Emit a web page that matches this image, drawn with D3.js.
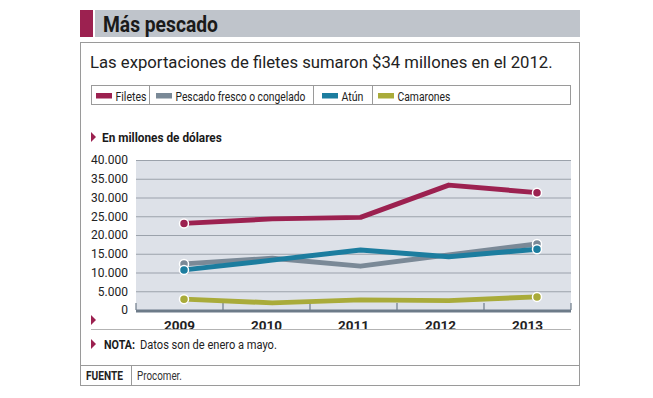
<!DOCTYPE html>
<html lang="es">
<head>
<meta charset="UTF-8">
<title>Más pescado</title>
<script src="https://d3js.org/d3.v7.min.js"></script>
<style>
    body {margin: 0; background: #fff;}
    svg {display: block; font-family: Roboto, "Liberation Sans", sans-serif;}
</style>
</head>
<body>
<svg id="chart" width="653" height="398"></svg>
<script>
// data (millones de dólares)
let years = ["2009", "2010", "2011", "2012", "2013"]
let filetes = [23100, 24300, 24700, 33300, 31300]
let pescado = [12300, 13800, 11700, 14700, 17600]
let atun = [10700, 13300, 16000, 14200, 16200]
let camarones = [2900, 1900, 2700, 2500, 3500]
let yTicks = [0, 5000, 10000, 15000, 20000, 25000, 30000, 35000, 40000]

let series = [
    {name: "Camarones", values: camarones, color: "#a9ab3a"},
    {name: "Pescado fresco o congelado", values: pescado, color: "#7a8997"},
    {name: "Atún", values: atun, color: "#1c7d9f"},
    {name: "Filetes", values: filetes, color: "#9c2150"}
]
let legendOrder = ["Filetes", "Pescado fresco o congelado", "Atún", "Camarones"]

let svg = d3.select("#chart")
let border = "#9a9a9a"

// the original uses a condensed face; squeeze Roboto horizontally to the same width
function fit(t, w) {
    let nat = t.node().getComputedTextLength()
    let x0 = +t.attr("x"), y0 = +t.attr("y")
    t.attr("x", 0).attr("y", 0)
        .attr("transform", `translate(${x0},${y0}) scale(${w / nat},1)`)
    return t
}

// title bar
svg.append("rect").attr("x", 80).attr("y", 10).attr("width", 13).attr("height", 27).attr("fill", "#9c2150")
svg.append("rect").attr("x", 95).attr("y", 10).attr("width", 485).attr("height", 27).attr("fill", "#bfc4cb")
fit(svg.append("text")
    .attr("x", 103).attr("y", 32)
    .attr("font-size", 22).attr("font-weight", "bold").attr("fill", "#1a1a1a")
    .text("Más pescado"), 115)

// main box
svg.append("rect").attr("x", 80.5).attr("y", 42.5).attr("width", 499).attr("height", 343)
    .attr("fill", "none").attr("stroke", border)
svg.append("text")
    .attr("x", 90).attr("y", 68)
    .attr("font-size", 16.7).attr("fill", "#222")
    .text("Las exportaciones de filetes sumaron $34 millones en el 2012.")

// legend
let legendDiv = [149, 313, 372]
let legendSw = [96, 156, 322, 378]
let legendW = [31, 130, 22, 53]
let legend = svg.append("g")
legend.append("rect").attr("x", 91.5).attr("y", 85.5).attr("width", 479).attr("height", 19)
    .attr("fill", "none").attr("stroke", border)
legendDiv.forEach(function (d) {
    legend.append("line").attr("x1", d + 0.5).attr("x2", d + 0.5)
        .attr("y1", 85).attr("y2", 105).attr("stroke", border)
})
legendOrder.forEach(function (name, i) {
    let s = series.find(d => d.name === name)
    legend.append("rect").attr("x", legendSw[i]).attr("y", 93).attr("width", 16).attr("height", 5.5)
        .attr("fill", s.color)
    fit(legend.append("text").attr("x", legendSw[i] + 19.5).attr("y", 100.5)
        .attr("font-size", 13.5).attr("fill", "#222").text(name), legendW[i])
})

// section label
function marker(x, y) {
    svg.append("path").attr("d", `M${x},${y - 5}L${x + 5},${y}L${x},${y + 5}Z`).attr("fill", "#9c2150")
}
marker(91, 137)
fit(svg.append("text").attr("x", 102).attr("y", 142)
    .attr("font-size", 13).attr("font-weight", "bold").attr("fill", "#1a1a1a")
    .text("En millones de dólares"), 120)

// plot
let pLeft = 136, pRight = 571, pTop = 160, pBottom = 310
let x = d3.scaleBand().domain(years).range([pLeft, pRight])
let xp = d3.scalePoint().domain(years).range([184, 537])
let y = d3.scaleLinear().domain([0, 40000]).range([pBottom, pTop])

svg.append("rect").attr("x", pLeft).attr("y", pTop).attr("width", pRight - pLeft).attr("height", pBottom - pTop)
    .attr("fill", "#dde1e8")

let fmt = d3.formatLocale({decimal: ",", thousands: ".", grouping: [3], currency: ["$", ""]}).format(",")

let yAxis = svg.append("g")
    .attr("transform", `translate(${pLeft},0)`)
    .call(d3.axisLeft(y).tickValues(yTicks).tickSize(-(pRight - pLeft)).tickPadding(8).tickFormat(fmt))
yAxis.select(".domain").remove()
yAxis.selectAll(".tick line").attr("stroke", "#9ba2ab").attr("stroke-width", 1.2)
yAxis.selectAll(".tick text").attr("font-family", "Roboto").attr("font-size", 12).attr("fill", "#222")

// x axis
let xAxis = svg.append("g")
    .attr("transform", `translate(0,${pBottom})`)
    .call(d3.axisBottom(x).tickSize(0).tickPadding(10))
xAxis.select(".domain").remove()
xAxis.selectAll(".tick text").attr("font-family", "Roboto").attr("font-size", 13.5)
    .attr("font-weight", "bold").attr("fill", "#222")
svg.selectAll(".sep").data(years.slice(1)).join("line")
    .attr("x1", d => x(d)).attr("x2", d => x(d))
    .attr("y1", pBottom - 7).attr("y2", pBottom).attr("stroke", "#6d7b89").attr("stroke-width", 1.2)
svg.append("line").attr("x1", pLeft).attr("x2", pRight).attr("y1", pBottom + 1).attr("y2", pBottom + 1)
    .attr("stroke", "#6d7b89").attr("stroke-width", 3)
svg.append("line").attr("x1", pLeft).attr("x2", pLeft).attr("y1", pBottom - 7).attr("y2", pBottom)
    .attr("stroke", "#6d7b89").attr("stroke-width", 1.2)
svg.append("line").attr("x1", pRight).attr("x2", pRight).attr("y1", pBottom - 7).attr("y2", pBottom)
    .attr("stroke", "#6d7b89").attr("stroke-width", 1.2)

// lines
let line = d3.line().x((d, i) => xp(years[i])).y(d => y(d))
series.forEach(function (s) {
    svg.append("path").datum(s.values).attr("d", line)
        .attr("fill", "none").attr("stroke", s.color).attr("stroke-width", 5)
        .attr("stroke-linejoin", "round")
})
series.forEach(function (s) {
    [0, s.values.length - 1].forEach(function (i) {
        svg.append("circle").attr("cx", xp(years[i])).attr("cy", y(s.values[i])).attr("r", 4.5)
            .attr("fill", s.color).attr("stroke", "#fff").attr("stroke-width", 1.5)
    })
})

// footer
marker(91, 320)
svg.append("line").attr("x1", 91).attr("x2", 571).attr("y1", 329.5).attr("y2", 329.5)
    .attr("stroke", "#b3b3b3").attr("stroke-width", 1)
marker(91, 344)
fit(svg.append("text").attr("x", 104).attr("y", 349)
    .attr("font-size", 13.5).attr("font-weight", "bold").attr("fill", "#1a1a1a").text("NOTA:"), 31)
fit(svg.append("text").attr("x", 140).attr("y", 349)
    .attr("font-size", 13.5).attr("fill", "#222").text("Datos son de enero a mayo."), 137)

svg.append("line").attr("x1", 80).attr("x2", 580).attr("y1", 365.5).attr("y2", 365.5).attr("stroke", border)
svg.append("line").attr("x1", 131.5).attr("x2", 131.5).attr("y1", 365).attr("y2", 386).attr("stroke", border)
fit(svg.append("text").attr("x", 86).attr("y", 380)
    .attr("font-size", 12.5).attr("font-weight", "bold").attr("fill", "#222").text("FUENTE"), 37)
fit(svg.append("text").attr("x", 137).attr("y", 380)
    .attr("font-size", 12.5).attr("fill", "#333").text("Procomer."), 45)
</script>
</body>
</html>
